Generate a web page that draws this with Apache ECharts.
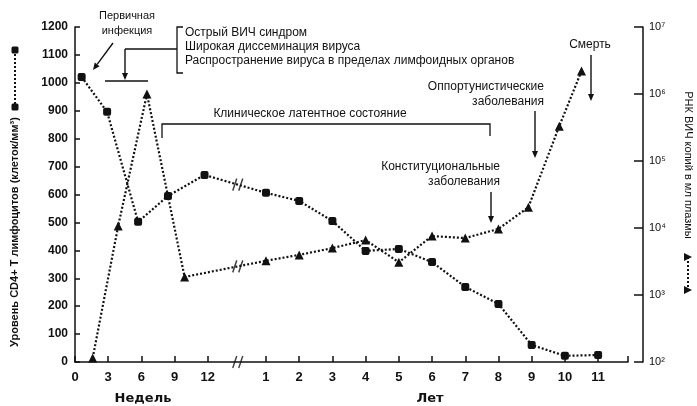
<!DOCTYPE html>
<html><head><meta charset="utf-8">
<script src="https://cdn.jsdelivr.net/npm/echarts@6/dist/echarts.min.js"></script>
<style>html,body{margin:0;padding:0;background:#fff}#c{width:697px;height:406px}</style>
</head><body><div id="c"></div>
<script>
// ---- data ----
const weekTicks = [0, 3, 6, 9, 12];
const yearTicks = [1, 2, 3, 4, 5, 6, 7, 8, 9, 10, 11];
const cd4WeekX = [0.6, 2.9, 5.7, 8.4, 11.7];
const cd4WeekY = [1021, 896, 502, 595, 670];
const cd4YearX = [1, 2, 3, 4, 5, 6, 7, 8, 9, 10, 11];
const cd4YearY = [606, 577, 505, 398, 405, 358, 269, 208, 61, 22, 25];
const vlWeekX = [1.6, 3.9, 6.5, 9.9];
const vlWeekY = [115, 10700, 1000000, 1860];
const vlYearX = [1, 2, 3, 4, 5, 6, 7, 8, 8.9, 9.83, 10.5];
const vlYearY = [3240, 3970, 5010, 6600, 3090, 7580, 7070, 9700, 20400, 331000, 2200000];
const logTicks = [1e2, 1e3, 1e4, 1e5, 1e6, 1e7];
const supers = {2: '10²', 3: '10³', 4: '10⁴', 5: '10⁵', 6: '10⁶', 7: '10⁷'};

// ---- axis mapping (weeks segment, then years segment after a break) ----
const posW = w => w / 3;
const posY = y => 4.75 + y;
const AXIS_MAX = 16.65;
const BREAK_POS = 4.9;

const tickPos = weekTicks.map(posW).concat(yearTicks.map(posY));
const tickTxt = weekTicks.map(String).concat(yearTicks.map(String));

const cd4 = cd4WeekX.map((x, i) => [posW(x), cd4WeekY[i]])
  .concat(cd4YearX.map((x, i) => [posY(x), cd4YearY[i]]));
const vl = vlWeekX.map((x, i) => [posW(x), vlWeekY[i]])
  .concat(vlYearX.map((x, i) => [posY(x), vlYearY[i]]));

function interp(data, x, log) {
  for (let i = 0; i < data.length - 1; i++) {
    const a = data[i], b = data[i + 1];
    if (a[0] <= x && b[0] >= x) {
      const t = (x - a[0]) / (b[0] - a[0]);
      if (log) return Math.pow(10, Math.log10(a[1]) + t * (Math.log10(b[1]) - Math.log10(a[1])));
      return a[1] + t * (b[1] - a[1]);
    }
  }
  return null;
}

const ink = '#111';
const FONT = '"Liberation Sans", Arial, sans-serif';
const slash = 'path://M0,12L4,0M6,12L10,0';

function arrowEl(x1, y1, x2, y2) {
  const dx = x2 - x1, dy = y2 - y1, L = Math.hypot(dx, dy), ux = dx / L, uy = dy / L;
  const hl = 7, hw = 3;
  const bx = x2 - ux * hl, by = y2 - uy * hl;
  return [
    {type: 'line', silent: true, shape: {x1: x1, y1: y1, x2: bx, y2: by}, style: {stroke: ink, lineWidth: 1.4}},
    {type: 'polygon', silent: true, shape: {points: [[x2, y2], [bx - uy * hw, by + ux * hw], [bx + uy * hw, by - ux * hw]]}, style: {fill: ink}}
  ];
}
function poly(pts, w) {
  return {type: 'polyline', silent: true, shape: {points: pts}, style: {stroke: ink, lineWidth: w || 1.3, fill: null}};
}
function txt(x, y, text, extra) {
  return {type: 'text', silent: true, x: x, y: y, style: Object.assign({
    text: text, fill: ink, font: '12px ' + FONT, align: 'left', verticalAlign: 'middle'}, extra || {})};
}

const graphics = [].concat(
  // primary infection
  [txt(127, 16, 'Первичная', {align: 'center', font: '11px ' + FONT}),
   txt(127, 31, 'инфекция', {align: 'center', font: '11px ' + FONT})],
  arrowEl(113, 43, 93, 70),
  // acute syndrome bracket
  [poly([[183, 27], [177, 27], [177, 73], [183, 73]]),
   poly([[125, 49], [177, 49]]),
   poly([[105, 81], [148, 81]]),
   txt(185, 33, 'Острый ВИЧ синдром'),
   txt(185, 47, 'Широкая диссеминация вируса'),
   txt(185, 61, 'Распространение вируса в пределах лимфоидных органов')],
  arrowEl(125, 49, 125, 80),
  // latent period
  [poly([[162, 138], [162, 124], [490, 124], [490, 136]]),
   txt(310, 114, 'Клиническое латентное состояние', {align: 'center'})],
  // opportunistic
  [txt(544, 87, 'Оппортунистические', {align: 'right'}),
   txt(544, 102, 'заболевания', {align: 'right'})],
  arrowEl(535, 111, 535, 158),
  // constitutional
  [txt(500, 167, 'Конституциональные', {align: 'right'}),
   txt(500, 182, 'заболевания', {align: 'right'})],
  arrowEl(491, 192, 491, 223),
  // death
  [txt(590, 45, 'Смерть', {align: 'center'})],
  arrowEl(591, 55, 591, 101),
  // bottom axis names
  [txt(143, 399, 'Недель', {align: 'center', font: 'bold 13px "DejaVu Sans", sans-serif'}),
   txt(430, 399, 'Лет', {align: 'center', font: 'bold 13px "DejaVu Sans", sans-serif'})],
  // left axis name with legend glyph
  [{type: 'text', silent: true, x: 15, y: 232, rotation: Math.PI / 2,
    style: {text: 'Уровень CD4+ T лимфоцитов (клеток/мм³)', fill: ink, font: 'bold 11px ' + FONT, align: 'center', verticalAlign: 'middle'}},
   {type: 'line', silent: true, shape: {x1: 15, y1: 50, x2: 15, y2: 107}, style: {stroke: ink, lineWidth: 2, lineDash: [2, 2]}},
   {type: 'rect', silent: true, shape: {x: 11.5, y: 46.5, width: 7, height: 7, r: 1.5}, style: {fill: ink}},
   {type: 'rect', silent: true, shape: {x: 11.5, y: 103.5, width: 7, height: 7, r: 1.5}, style: {fill: ink}}],
  // right axis name with legend glyph
  [{type: 'text', silent: true, x: 688, y: 165, rotation: -Math.PI / 2,
    style: {text: 'РНК ВИЧ копий в мл плазмы', fill: ink, font: '11px ' + FONT, align: 'center', verticalAlign: 'middle'}},
   {type: 'line', silent: true, shape: {x1: 688, y1: 257, x2: 688, y2: 290}, style: {stroke: ink, lineWidth: 2, lineDash: [2, 2]}},
   {type: 'polygon', silent: true, shape: {points: [[684, 253], [692, 257], [684, 261]]}, style: {fill: ink}},
   {type: 'polygon', silent: true, shape: {points: [[684, 286], [692, 290], [684, 294]]}, style: {fill: ink}}]
);

const chart = echarts.init(document.getElementById('c'), null, {renderer: 'canvas'});
chart.setOption({
  animation: false,
  backgroundColor: '#fff',
  grid: {left: 75, right: 69, top: 27, bottom: 44, containLabel: false},
  xAxis: {
    type: 'value', min: 0, max: AXIS_MAX,
    axisLine: {show: true, lineStyle: {color: ink, width: 1.5}},
    axisTick: {show: true, inside: true, length: 6, customValues: tickPos.concat([AXIS_MAX]), lineStyle: {color: ink, width: 1.5}},
    axisLabel: {
      customValues: tickPos, margin: 9, color: ink, fontFamily: FONT, fontWeight: 'bold', fontSize: 13,
      formatter: v => { const i = tickPos.findIndex(p => Math.abs(p - v) < 1e-6); return i >= 0 ? tickTxt[i] : ''; }
    },
    splitLine: {show: false}
  },
  yAxis: [{
    type: 'value', min: 0, max: 1200, interval: 100, position: 'left',
    axisLine: {show: true, lineStyle: {color: ink, width: 1.5}},
    axisTick: {show: true, inside: true, length: 5, lineStyle: {color: ink, width: 1.5}},
    axisLabel: {margin: 7, color: ink, fontFamily: FONT, fontWeight: 'bold', fontSize: 12,
      formatter: v => String(v)},
    splitLine: {show: false}
  }, {
    type: 'log', logBase: 10, min: 100, max: 1e7, position: 'right', offset: 15,
    axisLine: {show: true, lineStyle: {color: ink, width: 1.5}},
    axisTick: {show: true, inside: true, length: 9, customValues: logTicks, lineStyle: {color: ink, width: 1.5}},
    axisLabel: {customValues: logTicks, margin: 6, color: ink, fontFamily: FONT, fontSize: 11,
      formatter: v => supers[Math.round(Math.log10(v))] || ''},
    splitLine: {show: false}
  }],
  series: [{
    type: 'line', yAxisIndex: 0, data: cd4, symbol: 'roundRect', symbolSize: 8,
    lineStyle: {color: ink, width: 2.2, type: [2, 2]}, itemStyle: {color: ink}
  }, {
    type: 'line', yAxisIndex: 1, data: vl, symbol: 'triangle', symbolSize: 9,
    lineStyle: {color: ink, width: 2.2, type: [2, 2]}, itemStyle: {color: ink}
  }, {
    type: 'scatter', yAxisIndex: 0, clip: false, symbol: slash, symbolSize: [10, 12],
    data: [[BREAK_POS, interp(cd4, BREAK_POS, false)], [BREAK_POS, 0]],
    itemStyle: {color: 'rgba(0,0,0,0)', borderColor: ink, borderWidth: 1.6}, z: 5
  }, {
    type: 'scatter', yAxisIndex: 1, clip: false, symbol: slash, symbolSize: [10, 12],
    data: [[BREAK_POS, interp(vl, BREAK_POS, true)]],
    itemStyle: {color: 'rgba(0,0,0,0)', borderColor: ink, borderWidth: 1.6}, z: 5
  }],
  graphic: graphics
});
</script></body></html>
